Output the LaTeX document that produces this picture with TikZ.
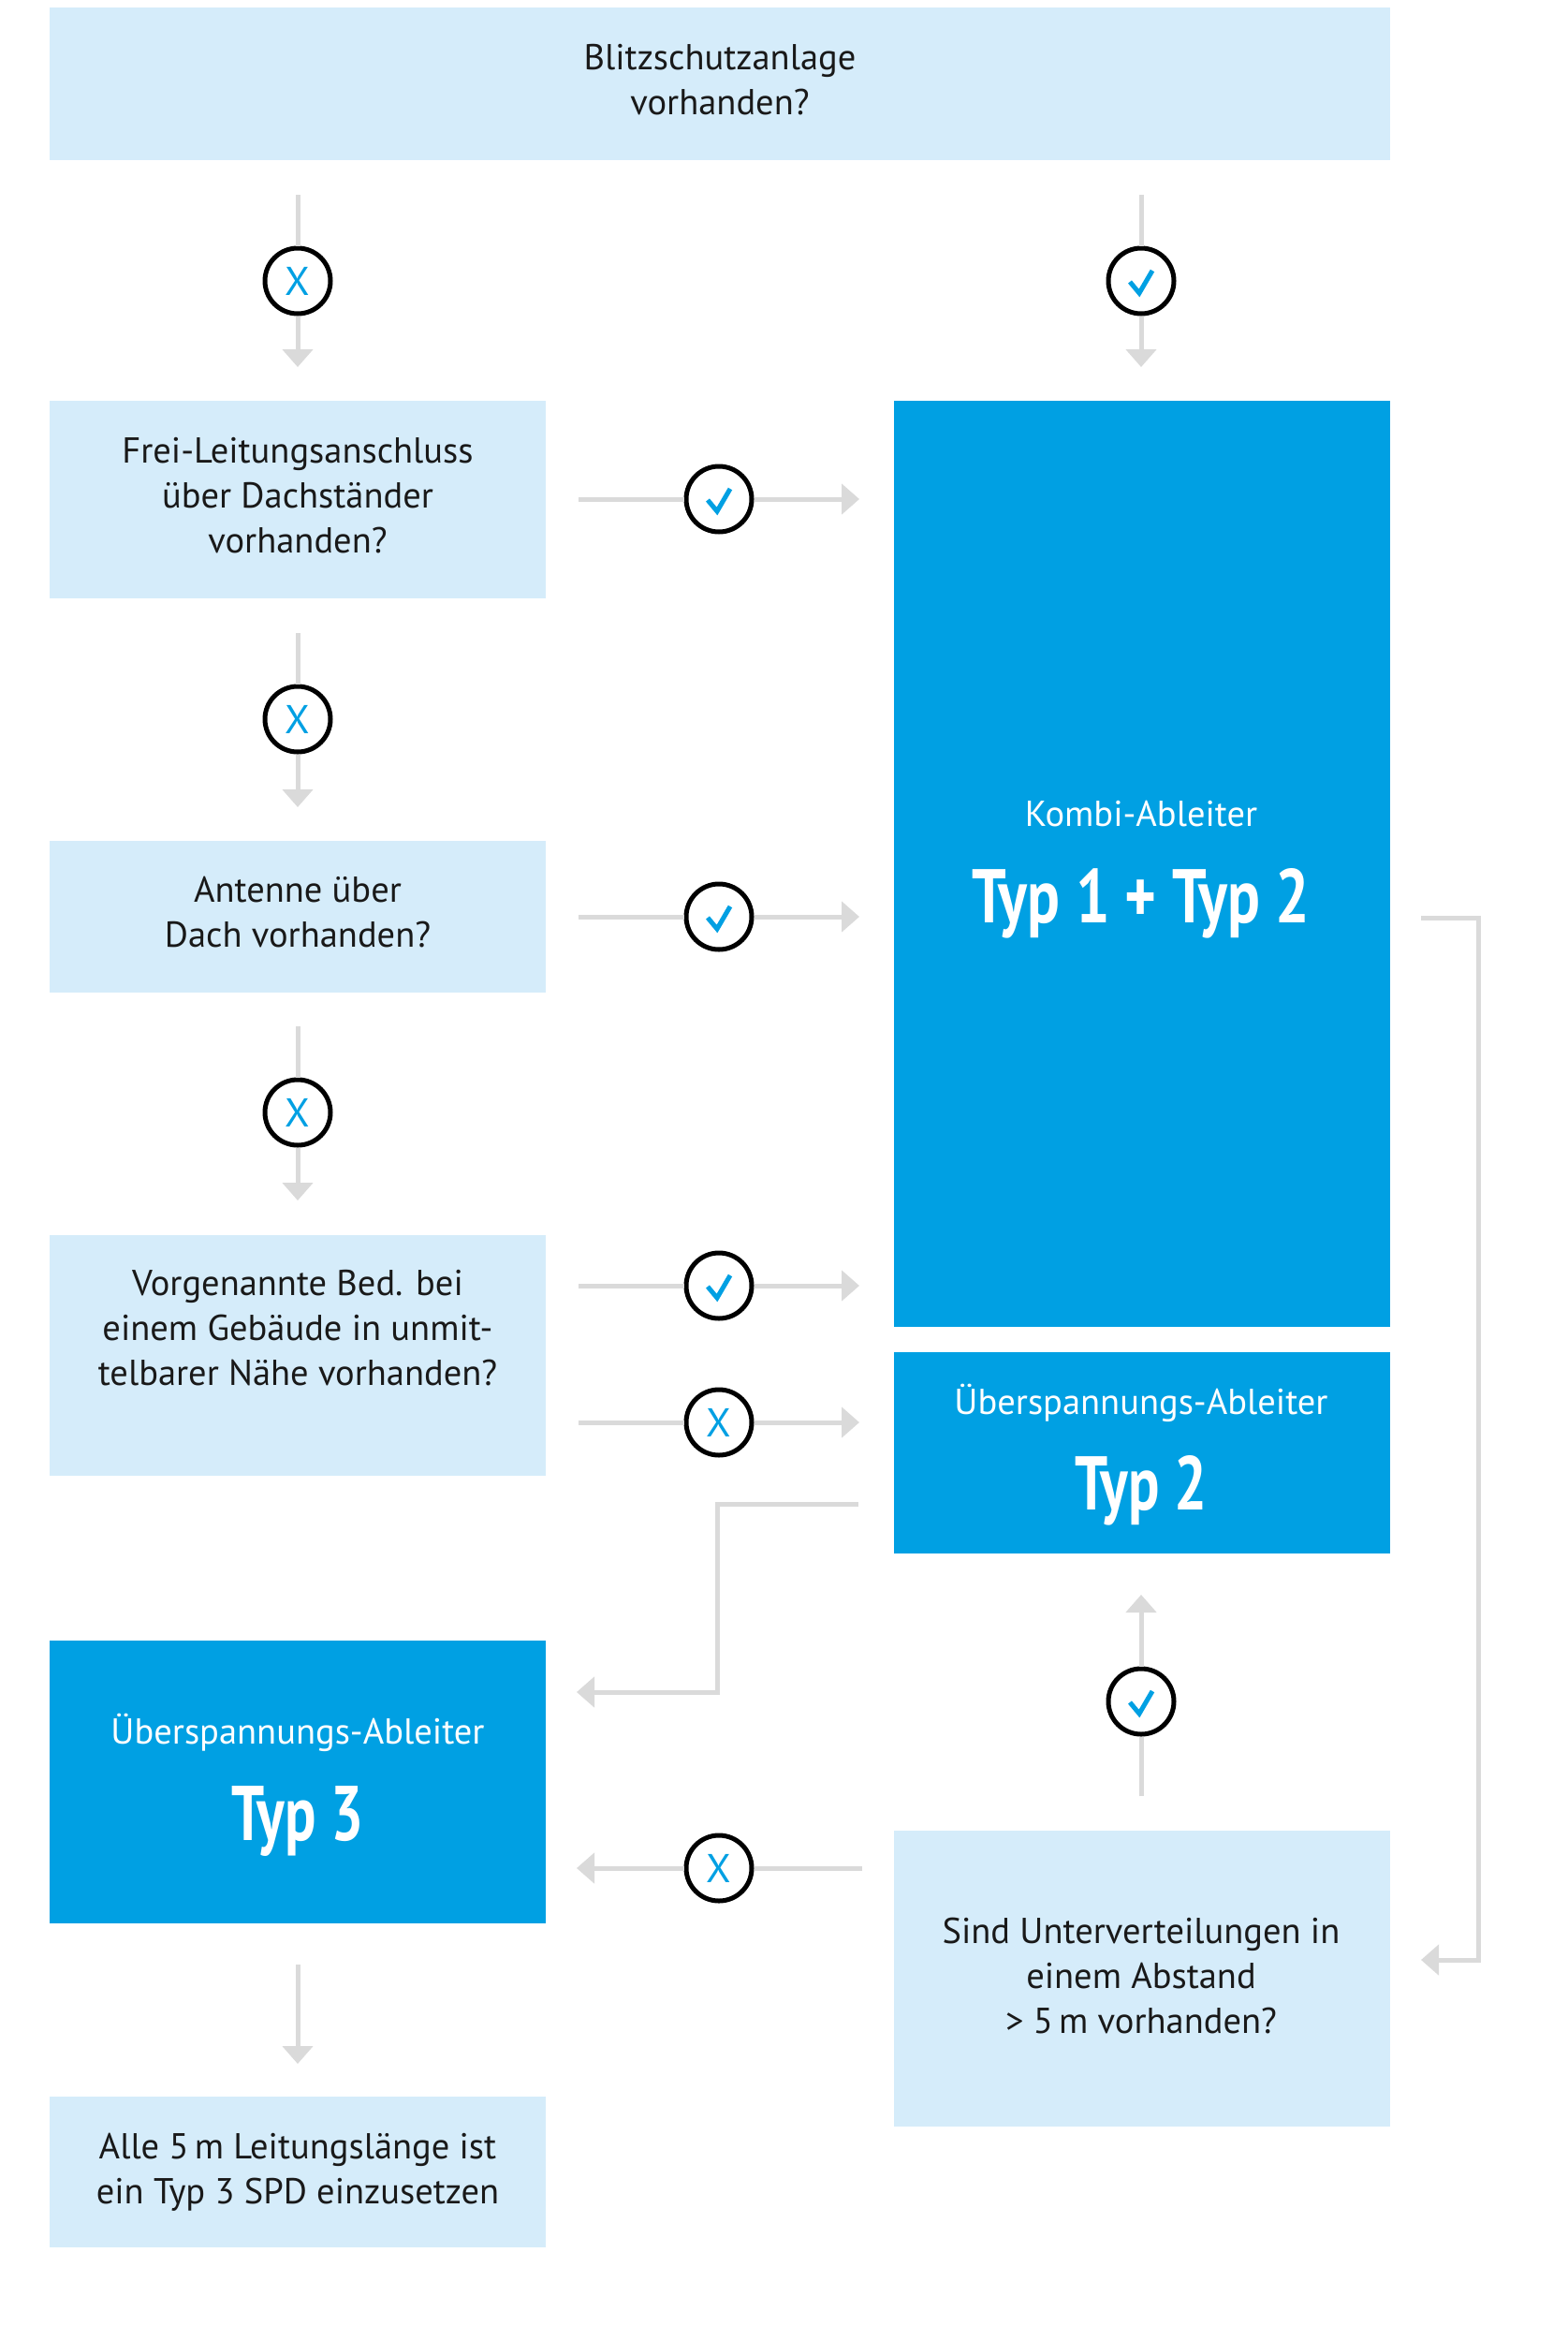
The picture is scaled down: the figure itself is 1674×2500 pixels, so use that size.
\documentclass[tikz,border=0pt]{standalone}
\usepackage{fontspec}
\usepackage{graphicx}
\setmainfont{PT Sans}
\usetikzlibrary{arrows.meta}
\definecolor{lightbox}{RGB}{213,236,250}
\definecolor{darkbox}{RGB}{0,160,227}
\definecolor{linegray}{RGB}{218,218,218}
\definecolor{textdark}{RGB}{25,25,25}
\definecolor{markblue}{RGB}{0,160,227}
\newcommand{\bodyfont}{\fontsize{38.5}{48}\selectfont}
\newcommand{\xfont}{\fontsize{43}{43}\selectfont}
\newcommand{\chk}[1]{\draw[markblue, line width=5pt] ([shift={(-12,1)}]#1.center) -- ++(10,12) -- ++(14,-24);}
\begin{document}
\begin{tikzpicture}[x=1pt,y=-1pt,
  qbox/.style={rectangle, fill=lightbox, inner sep=0pt, outer sep=0pt, anchor=north west},
  abox/.style={rectangle, fill=darkbox, inner sep=0pt, outer sep=0pt, anchor=north west},
  qtext/.style={font=\bodyfont, align=center, inner sep=0pt, anchor=north, text=textdark},
  wtext/.style={font=\bodyfont, inner sep=0pt, anchor=base, text=white},
  bigtext/.style={inner sep=0pt, anchor=base, text=white, font=\bfseries},
  decision/.style={circle, draw=black, line width=5pt, fill=white, minimum size=70pt, inner sep=0pt, text=markblue, font=\xfont},
  conn/.style={draw=linegray, line width=5pt},
  arr/.style={-{Triangle[length=19pt,width=32pt]}},
]
\useasboundingbox[fill=white] (0,0) rectangle (1674,2500);

% boxes
\node[qbox, minimum width=1432pt, minimum height=163pt] (top) at (53,8) {};
\node[qbox, minimum width=530pt, minimum height=211pt] (free) at (53,428) {};
\node[abox, minimum width=530pt, minimum height=989pt] (kombi) at (955,428) {};
\node[qbox, minimum width=530pt, minimum height=162pt] (ant) at (53,898) {};
\node[qbox, minimum width=530pt, minimum height=257pt] (vor) at (53,1319) {};
\node[abox, minimum width=530pt, minimum height=215pt] (typ2) at (955,1444) {};
\node[abox, minimum width=530pt, minimum height=302pt] (typ3) at (53,1752) {};
\node[qbox, minimum width=530pt, minimum height=316pt] (sind) at (955,1955) {};
\node[qbox, minimum width=530pt, minimum height=161pt] (alle) at (53,2239) {};

% texts
\node[qtext] (ttop) at (769,40.4) {\strut Blitzschutzanlage\\\strut vorhanden?};
\node[qtext] (tfree) at (318,460.4) {\strut Frei-Leitungsanschluss\\\strut über Dachständer\\\strut vorhanden?};
\node[qtext] (tant) at (318,929.4) {\strut Antenne über\\\strut Dach vorhanden?};
\node[qtext] (tvor) at (318,1349.4) {\strut Vorgenannte Bed. bei\\\strut einem Gebäude in unmit-\\\strut telbarer Nähe vorhanden?};
\node[qtext] (tsind) at (1219,2041.4) {\strut Sind Unterverteilungen in\\\strut einem Abstand\\\strut > 5\,m vorhanden?};
\node[qtext] (talle) at (318,2271.4) {\strut Alle 5\,m Leitungslänge ist\\\strut ein Typ 3 SPD einzusetzen};

\node[wtext] (tkombi) at (1219,882) {Kombi-Ableiter};
\node[bigtext] (tkombibig) at (1219,985) {\resizebox{361pt}{58pt}{Typ 1 + Typ 2}};
\node[wtext] (tue2) at (1219,1510) {Überspannungs-Ableiter};
\node[bigtext] (ttyp2) at (1219,1612) {\resizebox{141pt}{58pt}{Typ 2}};
\node[wtext] (tue3) at (318,1862) {Überspannungs-Ableiter};
\node[bigtext] (ttyp3) at (318,1965) {\resizebox{141pt}{58pt}{Typ 3}};

% decision circles
\node[decision] (cx1) at (318,300) {X};
\node[decision] (cy1) at (1219,300) {};
\node[decision] (c2) at (768,533) {};
\node[decision] (cx2) at (318,768) {X};
\node[decision] (c3) at (768,979) {};
\node[decision] (cx3) at (318,1188) {X};
\node[decision] (c4) at (768,1373) {};
\node[decision] (cx4) at (768,1519) {X};
\node[decision] (c5) at (1219,1817) {};
\node[decision] (cx5) at (768,1995) {X};
\chk{cy1}
\chk{c2}
\chk{c3}
\chk{c4}
\chk{c5}

% connectors
\draw[conn] ([yshift=-37pt]top.south -| cx1.center) -- (cx1);
\draw[conn,arr] (cx1) -- ([yshift=36pt]free.north -| cx1.center);
\draw[conn] ([yshift=-37pt]top.south -| cy1.center) -- (cy1);
\draw[conn,arr] (cy1) -- ([yshift=36pt]kombi.north -| cy1.center);

\draw[conn] ([xshift=35pt]free.east |- c2.center) -- (c2);
\draw[conn,arr] (c2) -- ([xshift=-37pt]kombi.west |- c2.center);
\draw[conn] ([yshift=-37pt]free.south -| cx2.center) -- (cx2);
\draw[conn,arr] (cx2) -- ([yshift=36pt]ant.north -| cx2.center);

\draw[conn] ([xshift=35pt]ant.east |- c3.center) -- (c3);
\draw[conn,arr] (c3) -- ([xshift=-37pt]kombi.west |- c3.center);
\draw[conn] ([yshift=-36pt]ant.south -| cx3.center) -- (cx3);
\draw[conn,arr] (cx3) -- ([yshift=37pt]vor.north -| cx3.center);

\draw[conn] ([xshift=35pt]vor.east |- c4.center) -- (c4);
\draw[conn,arr] (c4) -- ([xshift=-37pt]kombi.west |- c4.center);
\draw[conn] ([xshift=35pt]vor.east |- cx4.center) -- (cx4);
\draw[conn,arr] (cx4) -- ([xshift=-37pt]typ2.west |- cx4.center);

\draw[conn,arr] ([xshift=-38pt,yshift=53pt]typ2.south west) -- ++(-151,0) -- ++(0,201) -- ([xshift=33pt,yshift=-55pt]typ3.north east);

\draw[conn] ([yshift=37pt]sind.north -| c5.center) -- (c5);
\draw[conn,arr] (c5) -- ([yshift=-44pt]typ2.south -| c5.center);
\draw[conn] ([xshift=-34pt]sind.west |- cx5.center) -- (cx5);
\draw[conn,arr] (cx5) -- ([xshift=33pt]typ3.east |- cx5.center);

\draw[conn,arr] ([xshift=33pt,yshift=-58pt]kombi.east) -- ++(61,0) |- ([xshift=33pt,yshift=20pt]sind.east);

\draw[conn,arr] ([yshift=-44pt]typ3.south) -- ([yshift=35pt]alle.north);
\end{tikzpicture}
\end{document}
